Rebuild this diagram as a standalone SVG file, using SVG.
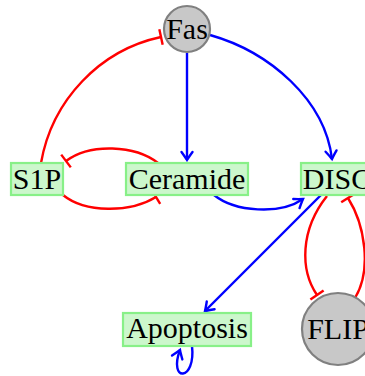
<svg xmlns="http://www.w3.org/2000/svg" width="365" height="376" viewBox="0 0 365 376">
<style>
.box{fill:#ccf7cc;stroke:#88f088;stroke-width:2.2}
.circ{fill:#c8c8c8;stroke:#808080;stroke-width:2.2}
.lbl{font-family:"Liberation Serif","DejaVu Serif",serif;font-size:30px;fill:#000;text-anchor:middle}
.act{fill:none;stroke:#0000ff;stroke-width:2.4}
.inh{fill:none;stroke:#ff0000;stroke-width:2.4}
</style>
<defs>
<marker id="arr" markerUnits="userSpaceOnUse" markerWidth="20" markerHeight="20" viewBox="-10 -10 20 20" refX="0" refY="0" orient="auto" overflow="visible">
<path d="M-8,-5.5 Q-2.5,-1.5 0,0 Q-2.5,1.5 -8,5.5" fill="none" stroke="#0000ff" stroke-width="2.4" stroke-linecap="round"/>
</marker>
<marker id="bar" markerUnits="userSpaceOnUse" markerWidth="20" markerHeight="20" viewBox="-10 -10 20 20" refX="0" refY="0" orient="auto" overflow="visible">
<line x1="0" y1="-8" x2="0" y2="8" stroke="#ff0000" stroke-width="2.4"/>
</marker>
</defs>
<g id="connectors">
<path class="act" d="M187,53 L187,160" marker-end="url(#arr)"/>
<path class="act" d="M210,35 C270,52 325,100 332,159" marker-end="url(#arr)"/>
<path class="inh" d="M41,163 C52,100 100,50 161,37" marker-end="url(#bar)"/>
<path class="inh" d="M158,163 C135,145 90,143 66,161" marker-end="url(#bar)"/>
<path class="inh" d="M63,195 C85,213 130,213 156,197" marker-end="url(#bar)"/>
<path class="act" d="M214,195 C235,212 280,215 303,199" marker-end="url(#arr)"/>
<path class="act" d="M321,195 L205,311" marker-end="url(#arr)"/>
<path class="inh" d="M327,196 C300,230 300,270 317,295" marker-end="url(#bar)"/>
<path class="inh" d="M355,298 C372,270 365,225 348,198" marker-end="url(#bar)"/>
<path class="act" d="M192,346 C196,382 168,382 180,350" marker-end="url(#arr)"/>
</g>
<g id="Fas">
<circle class="circ" cx="187" cy="29" r="23"/>
<text class="lbl" x="187" y="39">Fas</text>
</g>
<g id="S1P">
<rect class="box" x="11" y="163" width="52" height="32"/>
<text class="lbl" x="37" y="189">S1P</text>
</g>
<g id="Ceramide">
<rect class="box" x="126" y="163" width="122" height="32"/>
<text class="lbl" x="187" y="189">Ceramide</text>
</g>
<g id="DISC">
<rect class="box" x="301" y="163" width="73" height="32"/>
<text class="lbl" x="337" y="189">DISC</text>
</g>
<g id="Apoptosis">
<rect class="box" x="123" y="313" width="128" height="33"/>
<text class="lbl" x="187" y="338">Apoptosis</text>
</g>
<g id="FLIP">
<circle class="circ" cx="338" cy="329" r="36"/>
<text class="lbl" x="338" y="339">FLIP</text>
</g>
</svg>
